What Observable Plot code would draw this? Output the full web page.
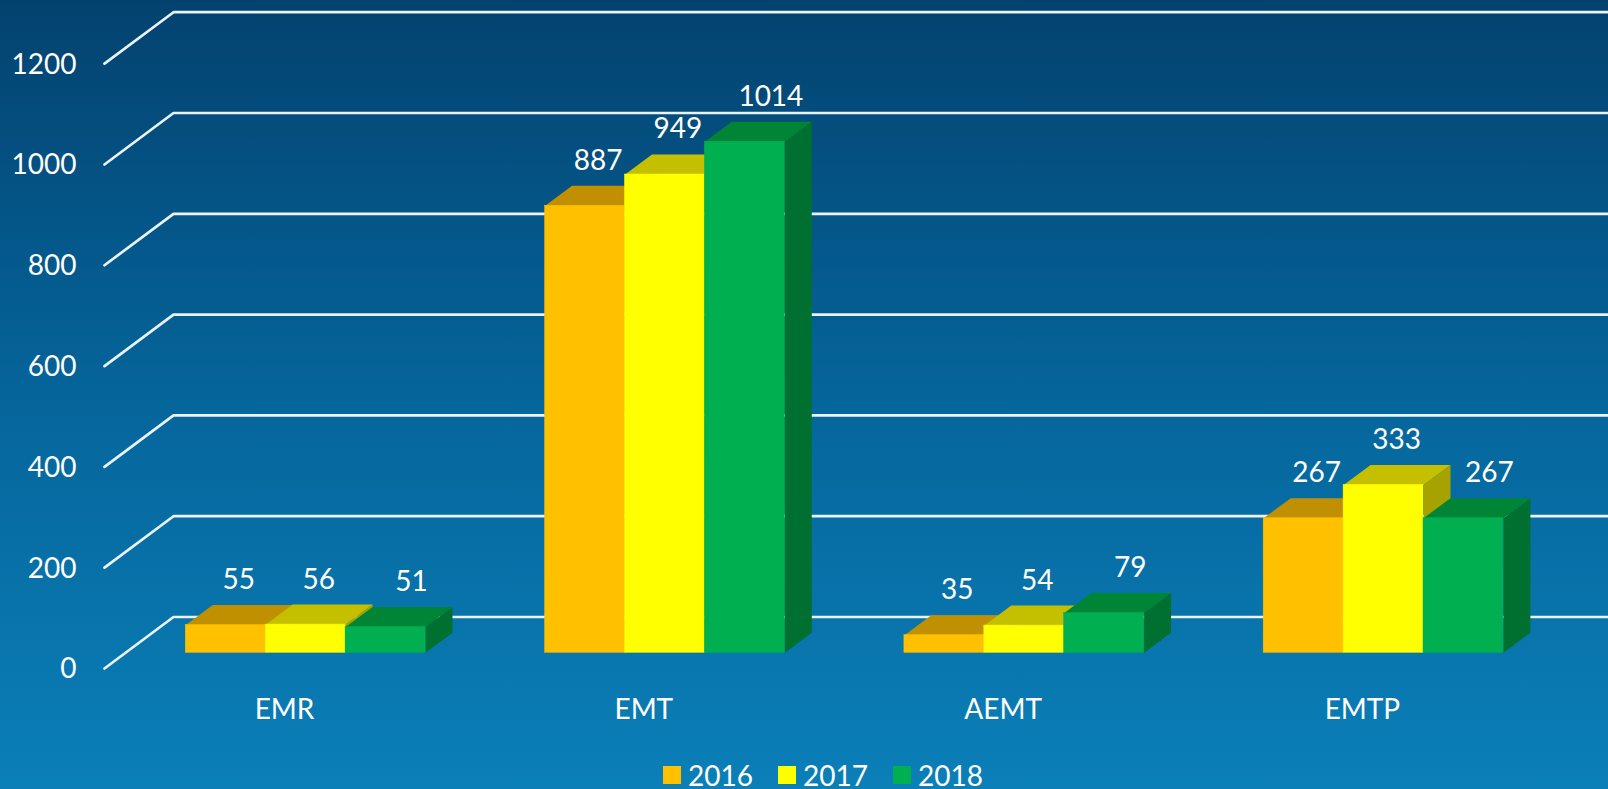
<!DOCTYPE html>
<html>
<head>
<meta charset="utf-8">
<script src="https://cdn.jsdelivr.net/npm/d3@7"></script>
<script src="https://cdn.jsdelivr.net/npm/@observablehq/plot@0.6"></script>
<style>
html,body{margin:0;padding:0;width:1608px;height:789px;overflow:hidden;
background:linear-gradient(180deg,#03426F 0%,#05659B 50%,#0B7FB8 100%);}
#chart{position:absolute;left:0;top:0;}
#chart svg{background:transparent;display:block;}
#legend{position:absolute;left:663px;top:758px;display:flex;align-items:center;color:#fff;font:28px Lato,sans-serif;line-height:34px;}
#legend .sw{display:inline-block;width:18px;height:18px;margin-right:7px;position:relative;top:0;}
#legend .it{display:flex;align-items:center;margin-right:25px;}
</style>
</head>
<body>
<div id="chart"></div>
<div id="legend"></div>
<script>
const categories = ["EMR", "EMT", "AEMT", "EMTP"];
const years = ["2016", "2017", "2018"];
const values2016 = [55, 887, 35, 267];
const values2017 = [56, 949, 54, 333];
const values2018 = [51, 1014, 79, 267];
const gridValues = [0, 200, 400, 600, 800, 1000, 1200];
const frontColors = ["#FFC000", "#FFFF00", "#00B050"];
const topColors = ["#C09000", "#C4C000", "#008537"];
const sideColors = ["#A67D00", "#A6A300", "#007030"];
const labelShift = [13, 13, 26];

const seriesValues = [values2016, values2017, values2018];
const barW = 0.2224;      // width of a bar, in category units
const depthX = 0.0751;    // depth of a bar, in category units
const depthY = 39.7;      // depth of a bar, in value units

const bars = seriesValues.map((vals, j) => vals.map((v, i) => ({
  v, j, x1: i + j * barW, x2: i + (j + 1) * barW
})));

const face = (b, pts, id) => pts.map(([x, y]) => ({x, y, id}));
const marks = [];

// walls
const grid = gridValues.flatMap(v => [
  {v, x: -0.2263, y: v - 31.1},
  {v, x: -0.0342, y: v + 71},
  {v, x: 4, y: v + 71}
]);
marks.push(Plot.line(grid, {x: "x", y: "y", z: "v", stroke: "#EAF3F8", strokeWidth: 2.7, strokeLinejoin: "miter"}));

// bars, series by series, so that each covers the one before
bars.forEach((rows, j) => {
  const side = rows.flatMap((b, i) => face(b, [
    [b.x2, 0], [b.x2 + depthX, depthY], [b.x2 + depthX, b.v + depthY], [b.x2, b.v]
  ], i));
  const top = rows.flatMap((b, i) => face(b, [
    [b.x1, b.v], [b.x1 + depthX, b.v + depthY], [b.x2 + depthX, b.v + depthY], [b.x2, b.v]
  ], i));
  marks.push(
    Plot.line(side, {x: "x", y: "y", z: "id", fill: sideColors[j], stroke: "none"}),
    Plot.line(top, {x: "x", y: "y", z: "id", fill: topColors[j], stroke: "none"}),
    Plot.rect(rows, {x1: "x1", x2: "x2", y1: 0, y2: "v", fill: frontColors[j], stroke: frontColors[j], strokeWidth: 0.5}),
    Plot.text(rows, {
      x: d => (d.x1 + d.x2) / 2, y: "v", text: d => String(d.v),
      dx: labelShift[j], dy: -45, fill: "white", fontSize: 28, textAnchor: "middle", lineAnchor: "middle"
    })
  );
});

marks.push(
  Plot.axisY({anchor: "left", ticks: gridValues, tickSize: 0, tickPadding: 0, dy: 16.7, label: null,
    fontSize: 28, color: "white", tickFormat: d => String(d)}),
  Plot.axisX({anchor: "bottom", ticks: [0, 1, 2, 3], tickSize: 0, tickPadding: 0, dx: 98.7, label: null,
    fontSize: 28, color: "white", tickFormat: i => categories[i]})
);

const chart = Plot.plot({
  width: 1608,
  height: 789,
  marginLeft: 76,
  marginRight: 0,
  marginTop: 0,
  marginBottom: 90,
  style: {background: "transparent", fontFamily: "Lato, sans-serif", color: "white"},
  x: {type: "linear", domain: [0, 4], range: [185.3, 185.3 + 4 * 359.3]},
  y: {type: "linear", domain: [0, 1200], range: [652.3, 652.3 - 604.8]},
  marks
});
document.getElementById("chart").appendChild(chart);

const legend = document.getElementById("legend");
years.forEach((yr, j) => {
  const it = document.createElement("span");
  it.className = "it";
  const sw = document.createElement("span");
  sw.className = "sw";
  sw.style.background = frontColors[j];
  it.appendChild(sw);
  it.appendChild(document.createTextNode(yr));
  legend.appendChild(it);
});
</script>
</body>
</html>
